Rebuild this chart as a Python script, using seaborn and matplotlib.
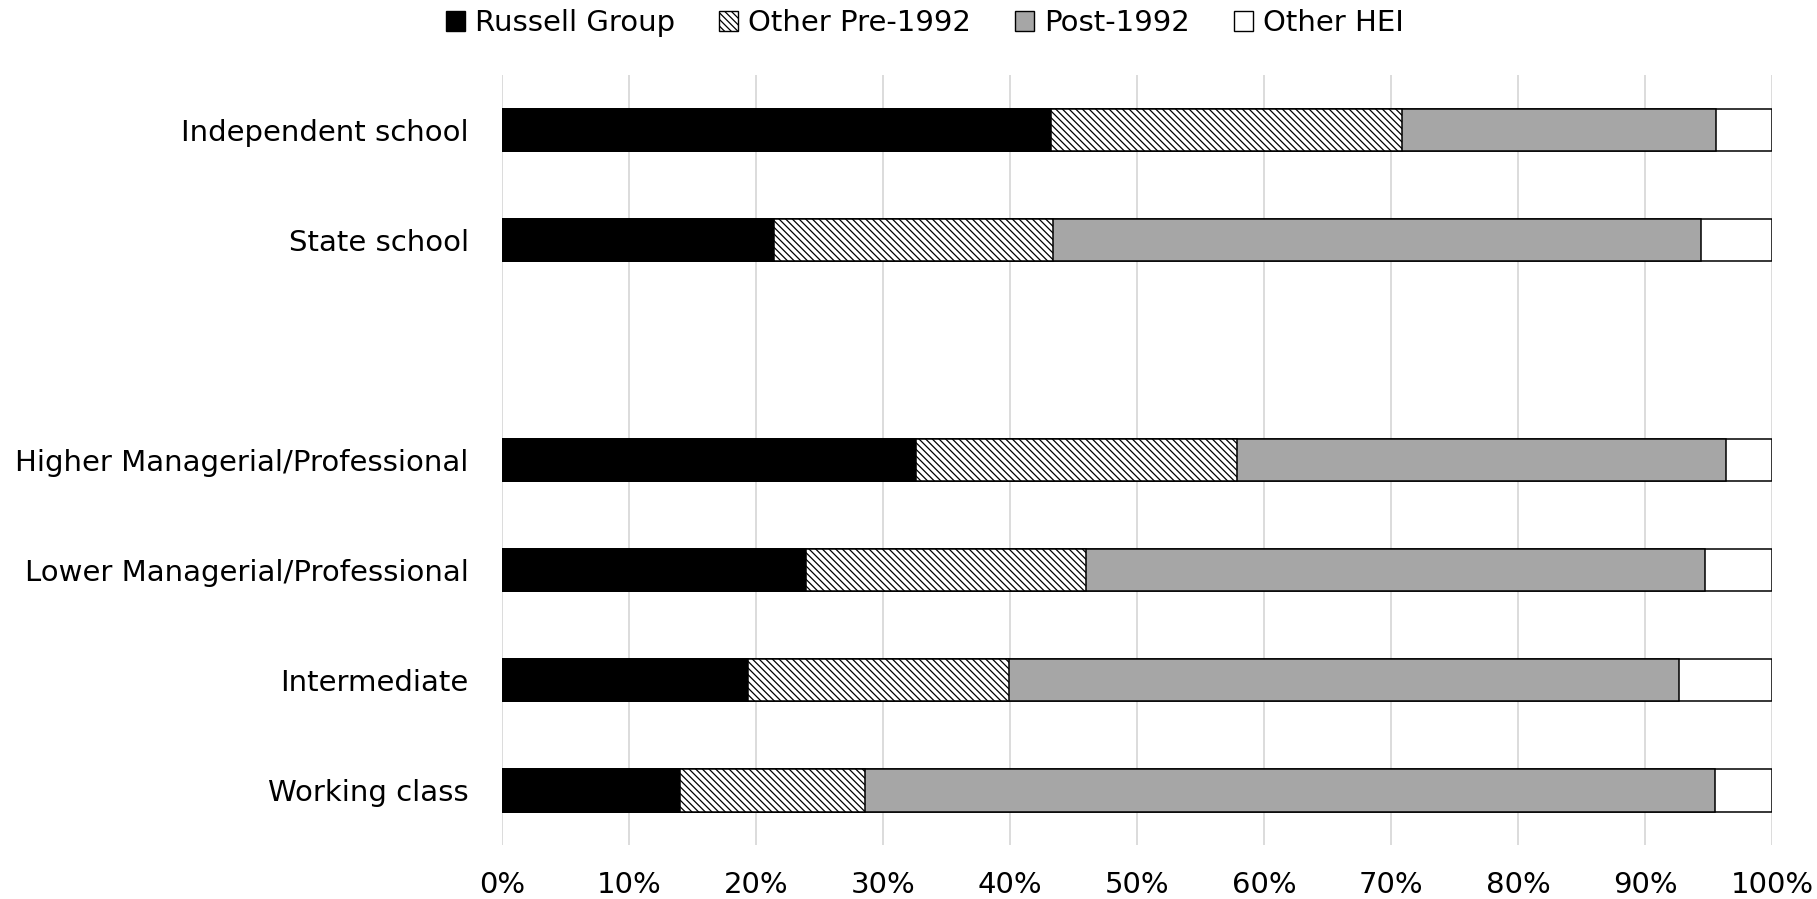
import matplotlib
matplotlib.use("Agg")
import matplotlib.pyplot as plt
import seaborn as sns
import pandas as pd
import numpy as np
from matplotlib.patches import Patch

groups = ["Independent school", "State school",
          "Higher Managerial/Professional", "Lower Managerial/Professional",
          "Intermediate", "Working class"]
order = ["Independent school", "State school", " ",
         "Higher Managerial/Professional", "Lower Managerial/Professional",
         "Intermediate", "Working class"]
series = ["Russell Group", "Other Pre-1992", "Post-1992", "Other HEI"]
russell = [43.2, 21.4, 32.6, 23.9, 19.4, 14.0]
pre1992 = [27.7, 22.0, 25.3, 22.1, 20.5, 14.6]
post1992 = [24.7, 51.0, 38.5, 48.7, 52.8, 66.9]
other_hei = [4.4, 5.6, 3.6, 5.3, 7.3, 4.5]
xticks = [0, 10, 20, 30, 40, 50, 60, 70, 80, 90, 100]

sns.set_theme(style="white")
plt.rcParams["font.family"] = ["DejaVu Sans"]
plt.rcParams["hatch.linewidth"] = 0.9
plt.rcParams["text.color"] = "black"
plt.rcParams["xtick.color"] = "black"
plt.rcParams["ytick.color"] = "black"

df = pd.DataFrame({"group": groups, "Russell Group": russell,
                   "Other Pre-1992": pre1992, "Post-1992": post1992,
                   "Other HEI": other_hei})
cum = df[series].cumsum(axis=1)
cum["group"] = df["group"]

styles = {
    "Russell Group": dict(color="black", hatch=None),
    "Other Pre-1992": dict(color="white", hatch="\\\\\\\\\\"),
    "Post-1992": dict(color="#a6a6a6", hatch=None),
    "Other HEI": dict(color="white", hatch=None),
}

fig = plt.figure(figsize=(18.17, 8.99), dpi=100)
ax = fig.add_axes([0.2763, 0.060, 0.9752 - 0.2763, 0.9166 - 0.060])

for s in reversed(series):
    st = styles[s]
    kw = {}
    if st["hatch"]:
        kw["hatch"] = st["hatch"]
    sns.barplot(data=cum, x=s, y="group", order=order, orient="h",
                color=st["color"], saturation=1, edgecolor="black",
                linewidth=1.1, width=0.39, errorbar=None, ax=ax, zorder=3, **kw)

ax.set_xlim(0, 100)
ax.set_ylim(len(order) - 0.5, -0.5)
ax.set_xticks(xticks)
ax.set_xticklabels([f"{t}%" for t in xticks])
ax.grid(axis="x", color="#d9d9d9", linewidth=1.3, zorder=0)
ax.set_axisbelow(True)
for sp in ax.spines.values():
    sp.set_visible(False)
ax.set_xlabel("")
ax.set_ylabel("")
ax.tick_params(axis="x", length=0, pad=19, labelsize=21, labelcolor="black")
ax.tick_params(axis="y", length=0, pad=24, labelsize=21, labelcolor="black")

handles = [Patch(facecolor=styles[s]["color"], edgecolor="black",
                 hatch=styles[s]["hatch"], linewidth=1.0) for s in series]
fig.legend(handles, series, loc="center", bbox_to_anchor=(0.509, 0.974),
           ncol=4, frameon=False, fontsize=21, handlelength=0.65,
           handleheight=0.65, handletextpad=0.35, columnspacing=1.5)

fig.savefig("out.png", dpi=100)
